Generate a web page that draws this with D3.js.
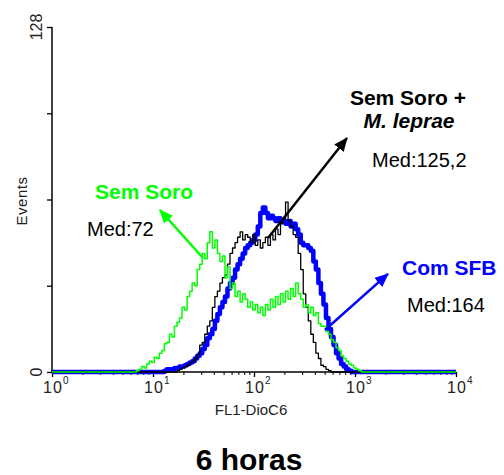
<!DOCTYPE html>
<html>
<head>
<meta charset="utf-8">
<script src="https://cdn.jsdelivr.net/npm/d3@7"></script>
<style>
  html, body { margin: 0; padding: 0; background: #fff; }
  svg { display: block; }
  text { font-family: "Liberation Sans", Arial, Helvetica, sans-serif; }
</style>
</head>
<body>
<svg id="chart" width="504" height="475"></svg>
<script>
// FL1-DioC6 histogram channels: first channel position (log10) and channel width (log10)
const binLog0 = 0.80;
const binStep = 0.025;

// Event counts per channel
const semSoro = [
  0, 0, 0.5, 1, 2, 1.5, 3, 4, 3.5, 5.5,
  5, 7, 8, 10.5, 11, 14, 13, 17, 18.5, 20,
  24, 23, 28, 30, 33, 32, 38, 40, 44, 42,
  48, 52, 46, 49, 44, 41, 43, 35, 39, 31,
  33, 28, 30, 26, 29, 27, 24, 26, 23, 25,
  22, 24, 21, 25, 23, 27, 24, 28, 25, 29,
  26, 30, 27, 31, 28, 33, 29, 27, 24, 25,
  22, 24, 21, 22, 18, 17, 17, 15, 14, 12,
  11, 9, 8, 6, 5, 4, 3, 2.5, 1.5, 1,
  0.5, 0, 0, 0, 0, 0
];
const semSoroMLeprae = [
  0, 0, 0, 0, 0, 0, 0, 0, 0, 0,
  0, 0, 0, 0, 0, 0, 0, 0, 0.5, 1,
  1.5, 2, 2.5, 3.5, 4, 5, 6.5, 10, 11, 14,
  17, 19, 24, 28, 30, 33, 35, 36, 40, 44,
  46, 48, 50, 52, 49, 51, 50, 48, 51, 47,
  49, 46, 48, 50, 47, 51, 49, 53, 51, 55,
  57, 63, 56, 54, 51, 50, 44, 38, 29, 24,
  19, 14, 11, 7, 5, 2.5, 2, 1, 0.5, 0,
  0, 0, 0, 0, 0, 0, 0, 0, 0, 0,
  0, 0, 0, 0, 0, 0
];
const comSFB = [
  0, 0, 0, 0, 0, 0, 0, 0, 0, 0,
  0, 0, 0, 0.5, 1, 1, 1, 1.5, 1.5, 2,
  2, 2.5, 3, 3.5, 4, 5, 6, 7, 8.5, 10,
  12.5, 14, 16, 19, 21.5, 24, 26, 28, 31, 33,
  35, 38, 40, 42, 44, 46, 47, 48, 49, 51,
  54, 59, 61, 59, 57, 58, 57, 56, 57, 56,
  56, 55, 56, 54, 55, 53, 51, 48, 47, 47,
  46, 45, 41, 38, 33, 29, 25, 20, 16, 13,
  10, 7, 5, 3, 2, 1, 0.5, 0, 0, 0,
  0, 0, 0, 0, 0, 0
];

// Axis ticks
const yTicks = [0, 32, 64, 96, 128];
const yTickLabels = { 0: "0", 128: "128" };
const xMajor = [1, 10, 100, 1000, 10000];
const xExponents = ["0", "1", "2", "3", "4"];

// Annotation arrows: [fromValue, fromCount, toValue, toCount]
const arrowSemSoro = [31.3, 42.3, 11.7, 60.1];
const arrowMLeprae = [137.6, 49.7, 833, 86.8];
const arrowComSFB = [504, 15.6, 2122, 36.4];

const svg = d3.select("#chart");
const x = d3.scaleLog().domain([1, 10000]).range([52, 456]);
const y = d3.scaleLinear().domain([0, 128]).range([372, 27]);

// Histogram traces
function tracePoints(counts) {
  const pts = [[1, 0]];
  counts.forEach((c, i) => pts.push([Math.pow(10, binLog0 + i * binStep), c]));
  pts.push([10000, 0]);
  return pts;
}
const line = d3.line()
  .x(d => x(d[0]))
  .y(d => y(d[1]))
  .curve(d3.curveStep);

const series = [
  { data: comSFB, color: "#0000ff", width: 4.5 },
  { data: semSoroMLeprae, color: "#000000", width: 1.3 },
  { data: semSoro, color: "#00ff00", width: 1.5 }
];

// Axes
const yAxis = d3.axisLeft(y).tickValues(yTicks).tickSize(5).tickFormat("");
const gy = svg.append("g").attr("transform", "translate(52,0)").call(yAxis);
gy.select(".domain").attr("d", `M0,${y(128)}V${y(0)}`).attr("stroke-width", 1.5);
gy.selectAll(".tick line").attr("stroke-width", 1.3);
yTicks.filter(t => yTickLabels[t] !== undefined).forEach(t => {
  svg.append("text")
    .attr("transform", `translate(42,${y(t)}) rotate(-90)`)
    .attr("text-anchor", "middle")
    .attr("font-size", 16)
    .attr("fill", "#222")
    .text(yTickLabels[t]);
});

const xMinor = [];
for (let d = 0; d < 4; d++) for (let k = 2; k <= 9; k++) xMinor.push(k * Math.pow(10, d));
const gxMinor = svg.append("g").attr("transform", "translate(0,372)")
  .call(d3.axisBottom(x).tickValues(xMinor).tickSize(3).tickFormat(""));
gxMinor.select(".domain").remove();
gxMinor.selectAll(".tick line").attr("stroke-width", 1);

const gx = svg.append("g").attr("transform", "translate(0,372)")
  .call(d3.axisBottom(x).tickValues(xMajor).tickSize(5).tickFormat(""));
gx.select(".domain").attr("d", `M${x(1)},0H${x(10000)}`).attr("stroke-width", 1.5);
gx.selectAll(".tick line").attr("stroke-width", 1.3);
xMajor.forEach((v, i) => {
  const t = svg.append("text")
    .attr("x", x(v) + 1)
    .attr("y", 393)
    .attr("text-anchor", "middle")
    .attr("font-size", 16)
    .attr("letter-spacing", 1)
    .attr("fill", "#222")
    .text("10");
  svg.append("text")
    .attr("x", x(v) + 11)
    .attr("y", 384)
    .attr("font-size", 10)
    .attr("fill", "#222")
    .text(xExponents[i]);
});

// Traces drawn on top of the axes
series.forEach(s => {
  svg.append("path")
    .attr("d", line(tracePoints(s.data)))
    .attr("fill", "none")
    .attr("stroke", s.color)
    .attr("stroke-width", s.width)
    .attr("stroke-linejoin", "round");
});

// Axis titles
svg.append("text")
  .attr("x", 251).attr("y", 415)
  .attr("text-anchor", "middle")
  .attr("font-size", 15)
  .attr("fill", "#222")
  .text("FL1-DioC6");
svg.append("text")
  .attr("transform", "translate(27,201) rotate(-90)")
  .attr("text-anchor", "middle")
  .attr("font-size", 15)
  .attr("letter-spacing", 0.5)
  .attr("fill", "#222")
  .text("Events");

// Arrows
const defs = svg.append("defs");
[["ahGreen", "#00ff00"], ["ahBlack", "#000000"], ["ahBlue", "#0000ff"]].forEach(([id, col]) => {
  defs.append("marker")
    .attr("id", id)
    .attr("viewBox", "0 0 14 12")
    .attr("refX", 13).attr("refY", 6)
    .attr("markerWidth", 14).attr("markerHeight", 12)
    .attr("markerUnits", "userSpaceOnUse")
    .attr("orient", "auto")
    .append("path").attr("d", "M0,0L14,6L0,12Z").attr("fill", col);
});
[[arrowSemSoro, "#00ff00", "ahGreen"], [arrowMLeprae, "#000000", "ahBlack"], [arrowComSFB, "#0000ff", "ahBlue"]]
  .forEach(([a, col, id]) => {
    svg.append("line")
      .attr("x1", x(a[0])).attr("y1", y(a[1]))
      .attr("x2", x(a[2])).attr("y2", y(a[3]))
      .attr("stroke", col)
      .attr("stroke-width", 2.5)
      .attr("marker-end", `url(#${id})`);
  });

// Labels
function label(txt, px, py, opts) {
  return svg.append("text")
    .attr("x", px).attr("y", py)
    .attr("font-size", opts.size || 20)
    .attr("font-weight", opts.bold ? "bold" : "normal")
    .attr("font-style", opts.italic ? "italic" : "normal")
    .attr("text-anchor", opts.anchor || "start")
    .attr("fill", opts.color || "#000")
    .text(txt);
}
label("Sem Soro", 95, 199, { bold: true, color: "#00ff00", size: 21 });
label("Med:72", 87, 236, { size: 20 });
label("Sem Soro +", 408, 105, { bold: true, anchor: "middle", size: 21 });
label("M. leprae", 409, 128, { bold: true, italic: true, anchor: "middle", size: 21 });
label("Med:125,2", 372, 167, { size: 20 });
label("Com SFB", 402, 275, { bold: true, color: "#0000ff", size: 21 });
label("Med:164", 407, 312, { size: 20 });
label("6 horas", 249, 470, { bold: true, anchor: "middle", size: 30 });
</script>
</body>
</html>
